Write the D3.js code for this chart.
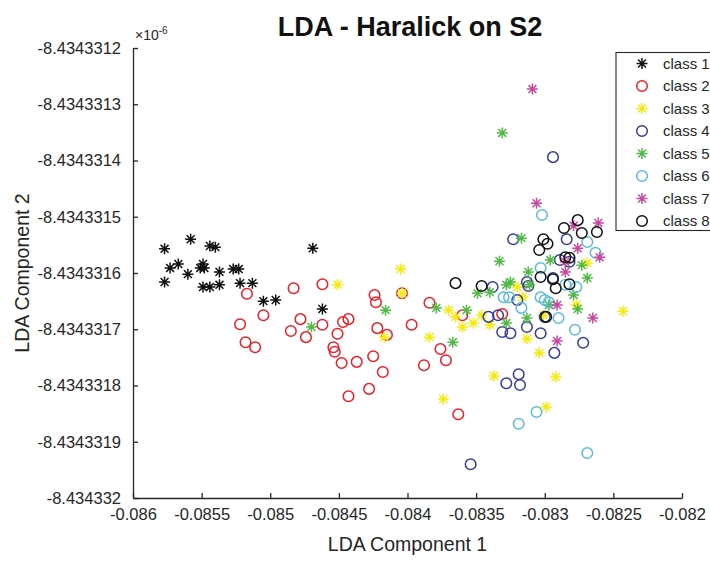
<!DOCTYPE html>
<html>
<head>
<meta charset="utf-8">
<script src="https://cdn.jsdelivr.net/npm/d3@7"></script>
<style>
  html, body { margin: 0; padding: 0; background: #fff; }
  svg { display: block; font-family: "Liberation Sans", Arial, Helvetica, sans-serif; }
</style>
</head>
<body>
<svg id="chart" width="710" height="561"></svg>
<script>
// ---- Data (x: LDA Component 1, y: LDA Component 2 in units of 1e-6) ----
const xTicks = [-0.086, -0.0855, -0.085, -0.0845, -0.084, -0.0835, -0.083, -0.0825, -0.082];
const xTickLabels = ["-0.086", "-0.0855", "-0.085", "-0.0845", "-0.084", "-0.0835", "-0.083", "-0.0825", "-0.082"];
const yTicks = [-8.4343312, -8.4343313, -8.4343314, -8.4343315, -8.4343316, -8.4343317, -8.4343318, -8.4343319, -8.434332];
const yTickLabels = ["-8.4343312", "-8.4343313", "-8.4343314", "-8.4343315", "-8.4343316", "-8.4343317", "-8.4343318", "-8.4343319", "-8.434332"];

const classNames = ["class 1", "class 2", "class 3", "class 4", "class 5", "class 6", "class 7", "class 8"];
const classColors = ["#111111", "#ec1f27", "#f7ea10", "#383c98", "#52b947", "#5bbcd6", "#c84aa0", "#111111"];
const classMarkers = ["star", "circle", "star", "circle", "star", "circle", "star", "circle"];

const class1 = [
  [-0.08577, -8.434331557], [-0.08558, -8.434331540], [-0.08544, -8.434331552], [-0.08540, -8.434331554],
  [-0.08573, -8.434331591], [-0.08567, -8.434331584], [-0.08560, -8.434331602], [-0.08549, -8.434331584],
  [-0.08548, -8.434331591], [-0.08577, -8.434331616], [-0.08549, -8.434331625], [-0.08544, -8.434331625],
  [-0.08537, -8.434331621], [-0.08537, -8.434331598], [-0.08527, -8.434331593], [-0.08523, -8.434331593],
  [-0.08522, -8.434331618], [-0.08513, -8.434331618], [-0.08505, -8.434331650], [-0.08496, -8.434331648],
  [-0.08469, -8.434331556], [-0.08462, -8.434331664], [-0.08551, -8.434331591]
];
const class2 = [
  [-0.08517, -8.434331637], [-0.08522, -8.434331691], [-0.08518, -8.434331723], [-0.08511, -8.434331732],
  [-0.08505, -8.434331675], [-0.08483, -8.434331627], [-0.08478, -8.434331682], [-0.08485, -8.434331703],
  [-0.08474, -8.434331714], [-0.08462, -8.434331692], [-0.08462, -8.434331620], [-0.08454, -8.434331732],
  [-0.08453, -8.434331740], [-0.08451, -8.434331708], [-0.08447, -8.434331687], [-0.08443, -8.434331682],
  [-0.08448, -8.434331760], [-0.08437, -8.434331758], [-0.08443, -8.434331819], [-0.08428, -8.434331806],
  [-0.08425, -8.434331748], [-0.08418, -8.434331776], [-0.08424, -8.434331639], [-0.08423, -8.434331652],
  [-0.08422, -8.434331698], [-0.08415, -8.434331710], [-0.08404, -8.434331636], [-0.08397, -8.434331692],
  [-0.08388, -8.434331764], [-0.08384, -8.434331653], [-0.08376, -8.434331735], [-0.08372, -8.434331755],
  [-0.08360, -8.434331675], [-0.08363, -8.434331851], [-0.08331, -8.434331673]
];
const class3 = [
  [-0.08451, -8.434331621], [-0.08405, -8.434331593], [-0.08404, -8.434331636], [-0.08417, -8.434331714],
  [-0.08384, -8.434331714], [-0.08370, -8.434331666], [-0.08365, -8.434331678], [-0.08360, -8.434331696],
  [-0.08352, -8.434331689], [-0.08346, -8.434331675], [-0.08340, -8.434331692], [-0.08337, -8.434331783],
  [-0.08374, -8.434331824], [-0.08320, -8.434331625], [-0.08316, -8.434331643], [-0.08313, -8.434331717],
  [-0.08304, -8.434331742], [-0.08292, -8.434331785], [-0.08299, -8.434331838], [-0.08301, -8.434331675],
  [-0.08277, -8.434331657], [-0.08269, -8.434331582], [-0.08243, -8.434331668]
];
const class4 = [
  [-0.08294, -8.434331394], [-0.08323, -8.434331540], [-0.08284, -8.434331540], [-0.08338, -8.434331625],
  [-0.08313, -8.434331616], [-0.08312, -8.434331623], [-0.08294, -8.434331609], [-0.08320, -8.434331648],
  [-0.08341, -8.434331678], [-0.08334, -8.434331675], [-0.08331, -8.434331705], [-0.08325, -8.434331707],
  [-0.08313, -8.434331696], [-0.08303, -8.434331707], [-0.08300, -8.434331678], [-0.08293, -8.434331742],
  [-0.08272, -8.434331724], [-0.08328, -8.434331796], [-0.08319, -8.434331780], [-0.08318, -8.434331799],
  [-0.08354, -8.434331940], [-0.08289, -8.434331577], [-0.08282, -8.434331580]
];
const class5 = [
  [-0.08331, -8.434331351], [-0.08317, -8.434331538], [-0.08333, -8.434331579], [-0.08296, -8.434331577],
  [-0.08312, -8.434331598], [-0.08325, -8.434331616], [-0.08328, -8.434331621], [-0.08349, -8.434331636],
  [-0.08340, -8.434331634], [-0.08269, -8.434331609], [-0.08279, -8.434331639], [-0.08276, -8.434331664],
  [-0.08313, -8.434331680], [-0.08328, -8.434331689], [-0.08357, -8.434331666], [-0.08297, -8.434331657],
  [-0.08311, -8.434331621], [-0.08273, -8.434331586], [-0.08416, -8.434331666], [-0.08379, -8.434331662],
  [-0.08367, -8.434331723], [-0.08470, -8.434331696]
];
const class6 = [
  [-0.08302, -8.434331497], [-0.08269, -8.434331545], [-0.08263, -8.434331564], [-0.08303, -8.434331591],
  [-0.08330, -8.434331643], [-0.08326, -8.434331643], [-0.08303, -8.434331643], [-0.08300, -8.434331648],
  [-0.08297, -8.434331652], [-0.08317, -8.434331662], [-0.08290, -8.434331680], [-0.08278, -8.434331701],
  [-0.08306, -8.434331847], [-0.08319, -8.434331868], [-0.08269, -8.434331920], [-0.08285, -8.434331621],
  [-0.08277, -8.434331625]
];
const class7 = [
  [-0.08309, -8.434331273], [-0.08306, -8.434331476], [-0.08261, -8.434331511], [-0.08279, -8.434331516],
  [-0.08276, -8.434331556], [-0.08285, -8.434331580], [-0.08260, -8.434331572], [-0.08285, -8.434331598],
  [-0.08291, -8.434331657], [-0.08265, -8.434331680], [-0.08291, -8.434331721]
];
const class8 = [
  [-0.08365, -8.434331618], [-0.08346, -8.434331623], [-0.08276, -8.434331506], [-0.08273, -8.434331529],
  [-0.08262, -8.434331527], [-0.08286, -8.434331520], [-0.08301, -8.434331540], [-0.08298, -8.434331548],
  [-0.08304, -8.434331559], [-0.08285, -8.434331572], [-0.08282, -8.434331573], [-0.08303, -8.434331607],
  [-0.08294, -8.434331611], [-0.08292, -8.434331627], [-0.08282, -8.434331620], [-0.08299, -8.434331678]
];
const allClasses = [class1, class2, class3, class4, class5, class6, class7, class8];

// ---- Layout ----
const svg = d3.select("#chart");
const plot = { left: 133, right: 682, top: 48, bottom: 498 };
const axisColor = "#262626";

const x = d3.scaleLinear().domain([-0.086, -0.082]).range([plot.left, plot.right]);
const y = d3.scaleLinear().domain([-8.434332, -8.4343312]).range([plot.bottom, plot.top]);

function starPath(r) {
  const d = r * 0.72;
  return `M${-r},0H${r}M0,${-r}V${r}M${-d},${-d}L${d},${d}M${-d},${d}L${d},${-d}`;
}
function drawMarker(g, type, color) {
  if (type === "star") {
    g.append("path").attr("d", starPath(5.5)).attr("fill", "none")
      .attr("stroke", color).attr("stroke-width", 1.5);
  } else {
    g.append("circle").attr("r", 5.3).attr("fill", "none")
      .attr("stroke", color).attr("stroke-width", 1.5);
  }
}

// Axes
const xAxis = d3.axisBottom(x).tickValues(xTicks)
  .tickFormat((d, i) => xTickLabels[i]).tickSizeInner(-5).tickSizeOuter(0).tickPadding(10);
const yAxis = d3.axisLeft(y).tickValues(yTicks)
  .tickFormat((d, i) => yTickLabels[i]).tickSizeInner(-5).tickSizeOuter(0).tickPadding(12);

const gx = svg.append("g").attr("transform", `translate(0,${plot.bottom})`).call(xAxis);
const gy = svg.append("g").attr("transform", `translate(${plot.left},0)`).call(yAxis);
[gx, gy].forEach(g => {
  g.select(".domain").attr("stroke", axisColor).attr("stroke-width", 1.3);
  g.selectAll(".tick line").attr("stroke", axisColor).attr("stroke-width", 1.3);
  g.selectAll(".tick text").attr("fill", axisColor)
    .style("font-family", "'Liberation Sans', Arial, sans-serif").style("font-size", "16.5px");
});

// Points
allClasses.forEach((pts, ci) => {
  const g = svg.append("g").attr("class", "class-" + (ci + 1));
  pts.forEach(p => {
    const m = g.append("g").attr("transform", `translate(${x(p[0])},${y(p[1])})`);
    drawMarker(m, classMarkers[ci], classColors[ci]);
  });
});

// Exponent label
const expo = svg.append("text").attr("x", 135).attr("y", 40).attr("fill", axisColor)
  .style("font-size", "14px");
expo.append("tspan").text("\u00d710");
expo.append("tspan").attr("dy", -6).style("font-size", "10px").text("-6");

// Title
svg.append("text").attr("x", 410).attr("y", 36)
  .attr("text-anchor", "middle").attr("font-weight", "bold").attr("fill", "#111")
  .style("font-size", "27px").text("LDA - Haralick on S2");

// Axis labels
svg.append("text").attr("x", (plot.left + plot.right) / 2).attr("y", 551)
  .attr("text-anchor", "middle").attr("fill", axisColor).style("font-size", "19.5px")
  .text("LDA Component 1");
svg.append("text").attr("transform", `translate(29,${(plot.top + plot.bottom) / 2}) rotate(-90)`)
  .attr("text-anchor", "middle").attr("fill", axisColor).style("font-size", "19.5px")
  .text("LDA Component 2");

// Legend
const legend = svg.append("g");
legend.append("rect").attr("x", 616).attr("y", 52.5).attr("width", 140).attr("height", 178)
  .attr("fill", "#fff").attr("stroke", axisColor).attr("stroke-width", 1.1);
classNames.forEach((name, i) => {
  const yy = 63.5 + i * 22.5;
  const m = legend.append("g").attr("transform", `translate(642,${yy})`);
  drawMarker(m, classMarkers[i], classColors[i]);
  legend.append("text").attr("x", 663).attr("y", yy).attr("dy", "0.35em")
    .attr("fill", axisColor).style("font-size", "15px").text(name);
});
</script>
</body>
</html>
